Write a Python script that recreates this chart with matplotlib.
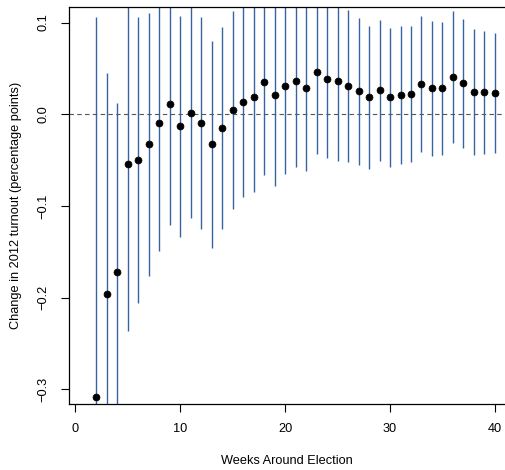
import numpy as np
import matplotlib
matplotlib.use('Agg')
import matplotlib.pyplot as plt

# недели и оценки
weeks = list(range(2, 41))
est = [-0.308, -0.196, -0.1725, -0.0546, -0.0502, -0.0324, -0.0092, 0.0112, -0.0131, 0.0017,
       -0.0092, -0.0328, -0.015, 0.005, 0.0138, 0.0186, 0.0356, 0.0207, 0.0309, 0.0364,
       0.0284, 0.0459, 0.0389, 0.036, 0.0313, 0.0251, 0.0186, 0.0265, 0.0186, 0.0207,
       0.0225, 0.0334, 0.0284, 0.0284, 0.041, 0.0342, 0.024, 0.024, 0.0236]
# доверительные интервалы
lower = [-0.722, -0.437, -0.357, -0.2362, -0.2063, -0.1762, -0.1492, -0.1205, -0.134, -0.1132,
         -0.1249, -0.1456, -0.1256, -0.1034, -0.0906, -0.0843, -0.0663, -0.078, -0.0652, -0.0572,
         -0.0616, -0.0433, -0.048, -0.0507, -0.0517, -0.0553, -0.0594, -0.0507, -0.0572, -0.0546,
         -0.0517, -0.0408, -0.0452, -0.0448, -0.031, -0.0365, -0.0448, -0.0433, -0.0426]
upper = [0.1058, 0.0451, 0.0123, 0.127, 0.1058, 0.111, 0.131, 0.143, 0.107, 0.117,
         0.1066, 0.0797, 0.0956, 0.113, 0.118, 0.121, 0.1375, 0.119, 0.127, 0.13,
         0.118, 0.135, 0.126, 0.123, 0.1139, 0.1051, 0.0964, 0.103, 0.0945, 0.0964,
         0.0964, 0.1073, 0.1022, 0.1008, 0.1123, 0.1037, 0.0931, 0.0909, 0.0891]

plt.rcParams['font.family'] = ['Liberation Sans', 'DejaVu Sans']

fig = plt.figure(figsize=(5.05, 4.7), dpi=100)
ax = fig.add_axes([69 / 505, 66 / 470, 1 - 69 / 505, 397 / 470])

# пунктир на нуле, интервалы и точки
ax.axhline(0, color='#555555', linestyle=(0, (4, 3)), linewidth=0.8, zorder=1)
ax.vlines(weeks, lower, upper, color='#3565a0', linewidth=1.0, zorder=2)
ax.plot(weeks, est, 'o', color='black', markersize=5, markeredgewidth=0.5, zorder=3)

ax.set_xlim(-0.6, 40.96)
ax.set_ylim(-0.316, 0.117)
ax.set_xticks([0, 10, 20, 30, 40])
ax.set_yticks([-0.3, -0.2, -0.1, 0.0, 0.1])
ax.set_yticklabels(['\u22120.3', '\u22120.2', '\u22120.1', '0.0', '0.1'], rotation=90, va='center')
ax.tick_params(direction='out', length=6, width=0.8, labelsize=9.2, pad=8)
ax.spines['right'].set_visible(False)
for s in ['left', 'bottom', 'top']:
    ax.spines[s].set_linewidth(0.9)

ax.set_xlabel('Weeks Around Election', fontsize=9.2, labelpad=14)
ax.set_ylabel('Change in 2012 turnout (percentage points)', fontsize=9.2, labelpad=11)

fig.savefig('out.png', dpi=100)
